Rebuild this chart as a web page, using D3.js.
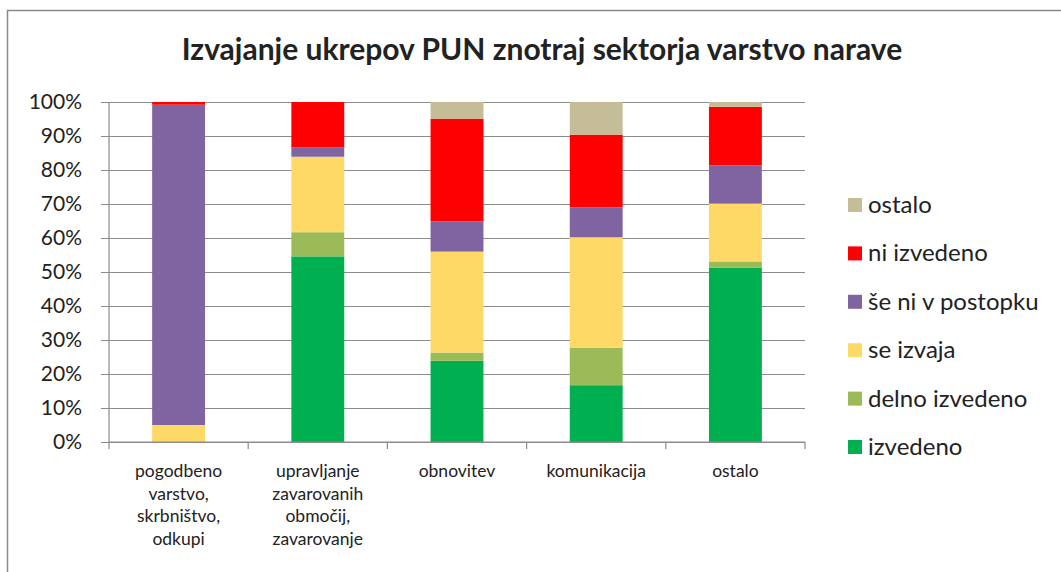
<!DOCTYPE html>
<html>
<head>
<meta charset="utf-8">
<script src="https://cdn.jsdelivr.net/npm/d3@7"></script>
<style>
  body { margin: 0; background: #fff; }
  text { font-family: Lato, "Open Sans", sans-serif; fill: #222; }
</style>
</head>
<body>
<div id="chart"></div>
<script>
// chart size
var width = 1061,
    height = 572;

// categories on the x axis (each label split into lines)
var categories = ["pogodbeno", "upravljanje", "obnovitev", "komunikacija", "ostalo"];
var categoryLines = [
    ["pogodbeno", "varstvo,", "skrbništvo,", "odkupi"],
    ["upravljanje", "zavarovanih", "območij,", "zavarovanje"],
    ["obnovitev"],
    ["komunikacija"],
    ["ostalo"]
];

// series, bottom to top (percent of measures)
var seriesNames = ["izvedeno", "delno izvedeno", "se izvaja", "še ni v postopku", "ni izvedeno", "ostalo"];
var seriesColors = ["#00B050", "#9BBB59", "#FFD966", "#8064A2", "#FF0000", "#C4BD97"];
var izvedeno      = [0,    54.6, 23.9, 16.7, 51.3];
var delnoIzvedeno = [0,    7.1,  2.4,  11.0, 1.8];
var seIzvaja      = [5.0,  22.2, 29.7, 32.5, 17.0];
var seNiVPostopku = [94.2, 2.7,  8.9,  8.8,  11.3];
var niIzvedeno    = [0.8,  13.4, 30.2, 21.4, 17.2];
var ostalo        = [0,    0,    4.9,  9.6,  1.4];

var yTicks = [0, 10, 20, 30, 40, 50, 60, 70, 80, 90, 100];

// build rows for d3.stack
var keys = ["izvedeno", "delno", "seIzvaja", "seNi", "ni", "ostalo"];
var rows = categories.map(function(c, i) {
    return {
        cat: c,
        izvedeno: izvedeno[i],
        delno: delnoIzvedeno[i],
        seIzvaja: seIzvaja[i],
        seNi: seNiVPostopku[i],
        ni: niIzvedeno[i],
        ostalo: ostalo[i]
    };
});
var stacked = d3.stack().keys(keys)(rows);

var svg = d3.select("#chart")
    .append("svg")
    .attr("width", width)
    .attr("height", height);

// outer frame
svg.append("rect")
    .attr("x", 7.5)
    .attr("y", 10.5)
    .attr("width", width)
    .attr("height", height)
    .attr("fill", "none")
    .attr("stroke", "#8a8a8a")
    .attr("stroke-width", 1.5);

// plot area
var plotLeft = 109, plotRight = 805, plotTop = 102, plotBottom = 442;

var xScale = d3.scaleBand()
    .domain(categories)
    .range([plotLeft, plotRight])
    .paddingInner(0.62)
    .paddingOuter(0.31);

var yScale = d3.scaleLinear()
    .domain([0, 100])
    .range([plotBottom, plotTop]);

// gridlines + y axis
var yAxis = d3.axisLeft(yScale)
    .tickValues(yTicks)
    .tickSize(-(plotRight - plotLeft))
    .tickPadding(27)
    .tickFormat(function(d) { return d + "%"; });

var gy = svg.append("g")
    .attr("transform", "translate(" + plotLeft + ",0)")
    .call(yAxis);
gy.select(".domain").remove();
gy.selectAll("line")
    .attr("x1", -8)
    .attr("stroke", "#8c8c8c")
    .attr("stroke-width", 1.2);
gy.selectAll("text")
    .style("font-size", "21px")
    .style("font-family", "Lato, sans-serif")
    .attr("fill", "#2a2a2a");

// y axis line
svg.append("line")
    .attr("x1", plotLeft).attr("x2", plotLeft)
    .attr("y1", plotTop).attr("y2", plotBottom)
    .attr("stroke", "#8c8c8c")
    .attr("stroke-width", 1.2);

// bars
svg.append("g")
    .selectAll("g")
    .data(stacked)
    .enter()
    .append("g")
    .attr("fill", function(d, i) { return seriesColors[i]; })
    .selectAll("rect")
    .data(function(d) { return d; })
    .enter()
    .append("rect")
    .attr("x", function(d) { return xScale(d.data.cat); })
    .attr("y", function(d) { return yScale(d[1]); })
    .attr("width", xScale.bandwidth())
    .attr("height", function(d) { return yScale(d[0]) - yScale(d[1]); });

// x axis line with ticks between categories
var xAxisG = svg.append("g");
xAxisG.append("line")
    .attr("x1", plotLeft).attr("x2", plotRight)
    .attr("y1", plotBottom).attr("y2", plotBottom)
    .attr("stroke", "#8c8c8c")
    .attr("stroke-width", 1.2);
xAxisG.selectAll("line.tick")
    .data(d3.range(categories.length + 1))
    .enter()
    .append("line")
    .attr("class", "tick")
    .attr("x1", function(i) { return plotLeft + i * xScale.step(); })
    .attr("x2", function(i) { return plotLeft + i * xScale.step(); })
    .attr("y1", plotBottom)
    .attr("y2", plotBottom + 7)
    .attr("stroke", "#8c8c8c")
    .attr("stroke-width", 1.2);

// category labels
var labels = svg.append("g")
    .selectAll("text")
    .data(categories)
    .enter()
    .append("text")
    .attr("text-anchor", "middle")
    .style("font-size", "17.5px")
    .attr("fill", "#2a2a2a")
    .attr("x", function(d) { return xScale(d) + xScale.bandwidth() / 2; })
    .attr("y", 477);
labels.selectAll("tspan")
    .data(function(d, i) { return categoryLines[i]; })
    .enter()
    .append("tspan")
    .attr("x", function() { return this.parentNode.getAttribute("x"); })
    .attr("dy", function(d, i) { return i === 0 ? 0 : 22.5; })
    .text(function(d) { return d; });

// title
svg.append("text")
    .attr("x", 542)
    .attr("y", 60)
    .attr("text-anchor", "middle")
    .style("font-size", "30px")
    .style("font-weight", "bold")
    .attr("fill", "#111")
    .text("Izvajanje ukrepov PUN znotraj sektorja varstvo narave");

// legend, top item is the top stack
var legendOrder = d3.range(seriesNames.length).reverse();
var legend = svg.append("g")
    .selectAll("g")
    .data(legendOrder)
    .enter()
    .append("g")
    .attr("transform", function(d, i) { return "translate(848," + (205 + i * 48.4) + ")"; });
legend.append("rect")
    .attr("x", 0)
    .attr("y", -7)
    .attr("width", 14)
    .attr("height", 14)
    .attr("fill", function(d) { return seriesColors[d]; });
legend.append("text")
    .attr("x", 20)
    .attr("y", 8)
    .style("font-size", "24px")
    .attr("fill", "#222")
    .text(function(d) { return seriesNames[d]; });
</script>
</body>
</html>
